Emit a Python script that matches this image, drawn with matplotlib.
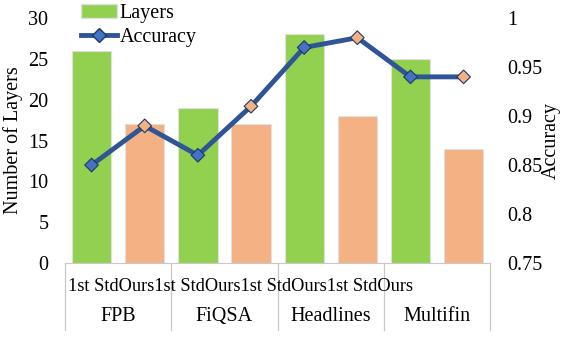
import matplotlib.pyplot as plt
from matplotlib.lines import Line2D
from matplotlib.patches import Patch

plt.rcParams['font.family'] = ['Liberation Serif', 'DejaVu Serif']

# Data
datasets = ['FPB', 'FiQSA', 'Headlines', 'Multifin']
methods = ['1st Std', 'Ours']
layers = [26, 17, 19, 17, 28, 18, 25, 14]
accuracy = [0.85, 0.89, 0.86, 0.91, 0.97, 0.98, 0.94, 0.94]

green = '#92D050'
orange = '#F4B183'
line_blue = '#2F5597'
marker_blue = '#4472C4'
fs = 14.5

fig = plt.figure(figsize=(5.72, 3.62), dpi=100)
ax = fig.add_axes([0.1136, 0.2735, 0.7434, 0.6765])

x = list(range(len(layers)))
bar_colors = [green if i % 2 == 0 else orange for i in x]
ax.bar(x, layers, width=0.74, color=bar_colors, edgecolor='#e0e0e0', linewidth=0.8, zorder=2)
ax.set_xlim(-0.5, len(layers) - 0.5)
ax.set_ylim(0, 30)
ax.set_yticks(range(0, 31, 5))
ax.set_ylabel('Number of Layers', fontsize=fs, labelpad=4)
ax.set_xticks([])
ax.tick_params(axis='y', length=0, labelsize=fs, pad=12)
for s in ['top', 'right', 'left']:
    ax.spines[s].set_visible(False)
ax.spines['bottom'].set_color('#c8c8c8')

ax2 = ax.twinx()
ax2.plot(x, accuracy, color=line_blue, linewidth=3.5, zorder=3)
face = [marker_blue if i % 2 == 0 else orange for i in x]
ax2.scatter(x, accuracy, marker='D', s=48, c=face, edgecolors='#1f3864', linewidths=0.8, zorder=4)
ax2.set_ylim(0.75, 1.0)
ax2.set_yticks([0.75, 0.8, 0.85, 0.9, 0.95, 1.0])
ax2.set_yticklabels(['0.75', '0.8', '0.85', '0.9', '0.95', '1'])
ax2.tick_params(axis='y', length=0, labelsize=fs, pad=12)
ax2.set_ylabel('Accuracy', fontsize=fs, rotation=90, labelpad=0)
for s in ['top', 'right', 'left', 'bottom']:
    ax2.spines[s].set_visible(False)

# two-level category axis (sub-labels run together as in the original)
sub_labels = ''.join(methods[i % 2] for i in x)
ax.text(0.006, -0.095, sub_labels, transform=ax.transAxes, ha='left', va='center', fontsize=13.2)
trans = ax.get_xaxis_transform()
for j, name in enumerate(datasets):
    ax.text(2 * j + 0.5, -0.22, name, transform=trans, ha='center', va='center', fontsize=fs)
for b in range(len(datasets) + 1):
    ax.plot([2 * b - 0.5, 2 * b - 0.5], [0, -0.275], transform=trans, color='#c8c8c8',
            linewidth=0.9, clip_on=False)

handles = [Patch(facecolor=green, edgecolor='#e0e0e0'),
           Line2D([0], [0], color=line_blue, linewidth=3.5, marker='D', markersize=7.5,
                  markerfacecolor=marker_blue, markeredgecolor='#1f3864')]
fig.legend(handles, ['Layers', 'Accuracy'], loc='upper left', bbox_to_anchor=(0.11, 1.04),
           frameon=False, fontsize=fs, handlelength=1.8, handletextpad=0.1, labelspacing=0.25)

fig.savefig('out.png', dpi=100)
